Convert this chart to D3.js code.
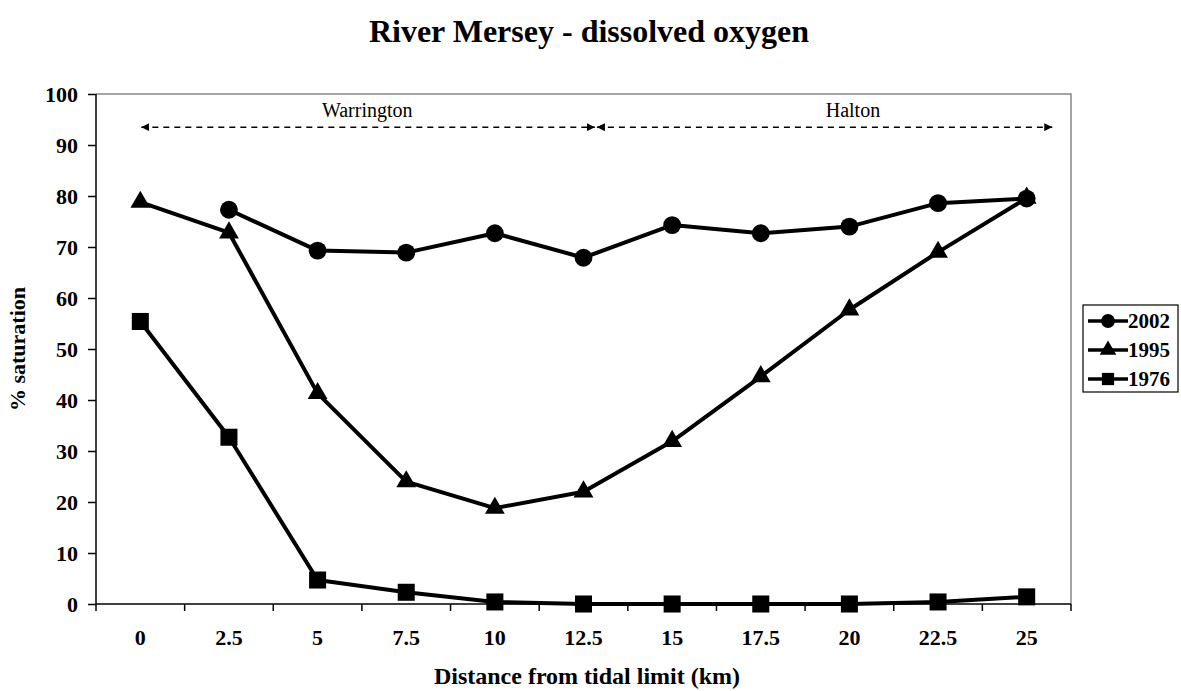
<!DOCTYPE html>
<head>
  <meta charset="utf-8" />
  <script src="https://d3js.org/d3.v7.min.js"></script>
  <style>
    body { margin: 0; background: white; }
    text { font-family: "Liberation Serif", "Times New Roman", serif; fill: black; }
  </style>
</head>
<body>
  <script>
    // donnees
    const distances = ["0", "2.5", "5", "7.5", "10", "12.5", "15", "17.5", "20", "22.5", "25"];
    const yTicks = [0, 10, 20, 30, 40, 50, 60, 70, 80, 90, 100];
    const s2002 = [null, 77.3, 69.3, 68.9, 72.7, 67.9, 74.3, 72.7, 74.0, 78.6, 79.5];
    const s1995 = [78.8, 72.8, 41.3, 24.0, 18.8, 22.0, 31.9, 44.6, 57.7, 69.0, 79.6];
    const s1976 = [55.4, 32.7, 4.7, 2.3, 0.4, 0, 0, 0, 0, 0.4, 1.4];
    const seriesNames = ["2002", "1995", "1976"];
    const seriesSymbols = [d3.symbolCircle, d3.symbolTriangle, d3.symbolSquare];
    // zones (km) : debut, fin, position du nom
    const zones = [
      { name: "Warrington", from: 0, to: 12.85, label: 6.4 },
      { name: "Halton", from: 12.85, to: 25.75, label: 20.1 }
    ];

    var width = 1181, height = 691;
    var margin = { top: 94, left: 96, right: 110, bottom: 87 };

    var svg = d3.select("body").append("svg")
      .attr("width", width).attr("height", height);

    var x = d3.scaleBand().domain(distances)
      .range([margin.left, width - margin.right]).padding(0);
    var y = d3.scaleLinear().domain([0, 100])
      .range([height - margin.bottom, margin.top]);
    // echelle en km pour les fleches
    var xKm = d3.scaleLinear().domain([0, 25])
      .range([x("0") + x.bandwidth() / 2, x("25") + x.bandwidth() / 2]);

    var x0 = margin.left, x1 = width - margin.right;
    var yb = y(0), yt = y(100);

    // cadre gris haut / droite
    svg.append("path")
      .attr("d", `M${x0},${yt}H${x1}V${yb}`)
      .attr("fill", "none").attr("stroke", "#888").attr("stroke-width", 1.5);

    // axe y
    var yAxis = svg.append("g")
      .attr("transform", `translate(${x0},0)`)
      .call(d3.axisLeft(y).tickValues(yTicks).tickSize(8).tickPadding(10));
    yAxis.selectAll("text")
      .style("font-size", "22px").style("font-weight", "bold")
      .style("font-family", "Liberation Serif");
    yAxis.selectAll("line, path").attr("stroke", "black").attr("stroke-width", 1.5);
    yAxis.select(".domain").attr("d", `M0,${yt}V${yb}`);

    // axe x : etiquettes au centre, graduations entre les categories
    var xAxis = svg.append("g")
      .attr("transform", `translate(0,${yb})`)
      .call(d3.axisBottom(x).tickSize(0).tickPadding(25));
    xAxis.selectAll("text")
      .style("font-size", "22px").style("font-weight", "bold")
      .style("font-family", "Liberation Serif");
    xAxis.select(".domain").attr("d", `M${x0},0H${x1}`)
      .attr("stroke", "black").attr("stroke-width", 1.5);
    var bounds = distances.map(d => x(d)).concat([x1]);
    xAxis.selectAll(".btick").data(bounds).join("line")
      .attr("x1", d => d).attr("x2", d => d)
      .attr("y1", 0).attr("y2", 7)
      .attr("stroke", "black").attr("stroke-width", 1.5);

    // titres
    svg.append("text")
      .attr("x", 589).attr("y", 42).attr("text-anchor", "middle")
      .style("font-size", "32px").style("font-weight", "bold")
      .text("River Mersey - dissolved oxygen");
    svg.append("text")
      .attr("x", 587).attr("y", 684).attr("text-anchor", "middle")
      .style("font-size", "24px").style("font-weight", "bold")
      .text("Distance from tidal limit (km)");
    svg.append("text")
      .attr("transform", "translate(25,349) rotate(-90)")
      .attr("text-anchor", "middle")
      .style("font-size", "22px").style("font-weight", "bold")
      .text("% saturation");

    // fleches des zones
    var defs = svg.append("defs");
    defs.append("marker").attr("id", "arr")
      .attr("viewBox", "0 0 10 10").attr("refX", 10).attr("refY", 5)
      .attr("markerWidth", 8).attr("markerHeight", 8)
      .attr("markerUnits", "userSpaceOnUse")
      .attr("orient", "auto-start-reverse")
      .append("path").attr("d", "M0,0L10,5L0,10Z").attr("fill", "black");

    var ya = y(93.5);
    zones.forEach(function (z) {
      svg.append("line")
        .attr("x1", xKm(z.from) + 1).attr("x2", xKm(z.to) - 1)
        .attr("y1", ya).attr("y2", ya)
        .attr("stroke", "black").attr("stroke-width", 1.5)
        .attr("stroke-dasharray", "6,5")
        .attr("marker-start", "url(#arr)").attr("marker-end", "url(#arr)");
      svg.append("text")
        .attr("x", xKm(z.label)).attr("y", ya - 10)
        .attr("text-anchor", "middle").style("font-size", "20px")
        .text(z.name);
    });

    // series
    var allSeries = [s2002, s1995, s1976];
    var line = d3.line()
      .defined(d => d[1] !== null)
      .x(d => x(d[0]) + x.bandwidth() / 2)
      .y(d => y(d[1]));

    allSeries.forEach(function (vals, i) {
      var pts = distances.map((d, j) => [d, vals[j]]);
      svg.append("path").datum(pts)
        .attr("d", line).attr("fill", "none")
        .attr("stroke", "black").attr("stroke-width", 4)
        .attr("stroke-linejoin", "round");
      var sym = d3.symbol().type(seriesSymbols[i])
        .size(i == 0 ? 250 : i == 1 ? 170 : 290);
      svg.append("g").selectAll("path")
        .data(pts.filter(p => p[1] !== null)).join("path")
        .attr("d", sym)
        .attr("transform", p => `translate(${x(p[0]) + x.bandwidth() / 2},${y(p[1])})`)
        .attr("fill", "black");
    });

    // legende
    var lg = svg.append("g");
    lg.append("rect")
      .attr("x", 1083).attr("y", 305).attr("width", 95).attr("height", 87)
      .attr("fill", "white").attr("stroke", "black").attr("stroke-width", 1.2);
    seriesNames.forEach(function (n, i) {
      var ly = 321 + i * 29;
      lg.append("line").attr("x1", 1088).attr("x2", 1128)
        .attr("y1", ly).attr("y2", ly)
        .attr("stroke", "black").attr("stroke-width", 3.5);
      lg.append("path")
        .attr("d", d3.symbol().type(seriesSymbols[i]).size(i == 1 ? 120 : 150))
        .attr("transform", `translate(1108,${ly})`).attr("fill", "black");
      lg.append("text").attr("x", 1128).attr("y", ly + 7)
        .style("font-size", "21px").style("font-weight", "bold")
        .text(n);
    });
  </script>
</body>
